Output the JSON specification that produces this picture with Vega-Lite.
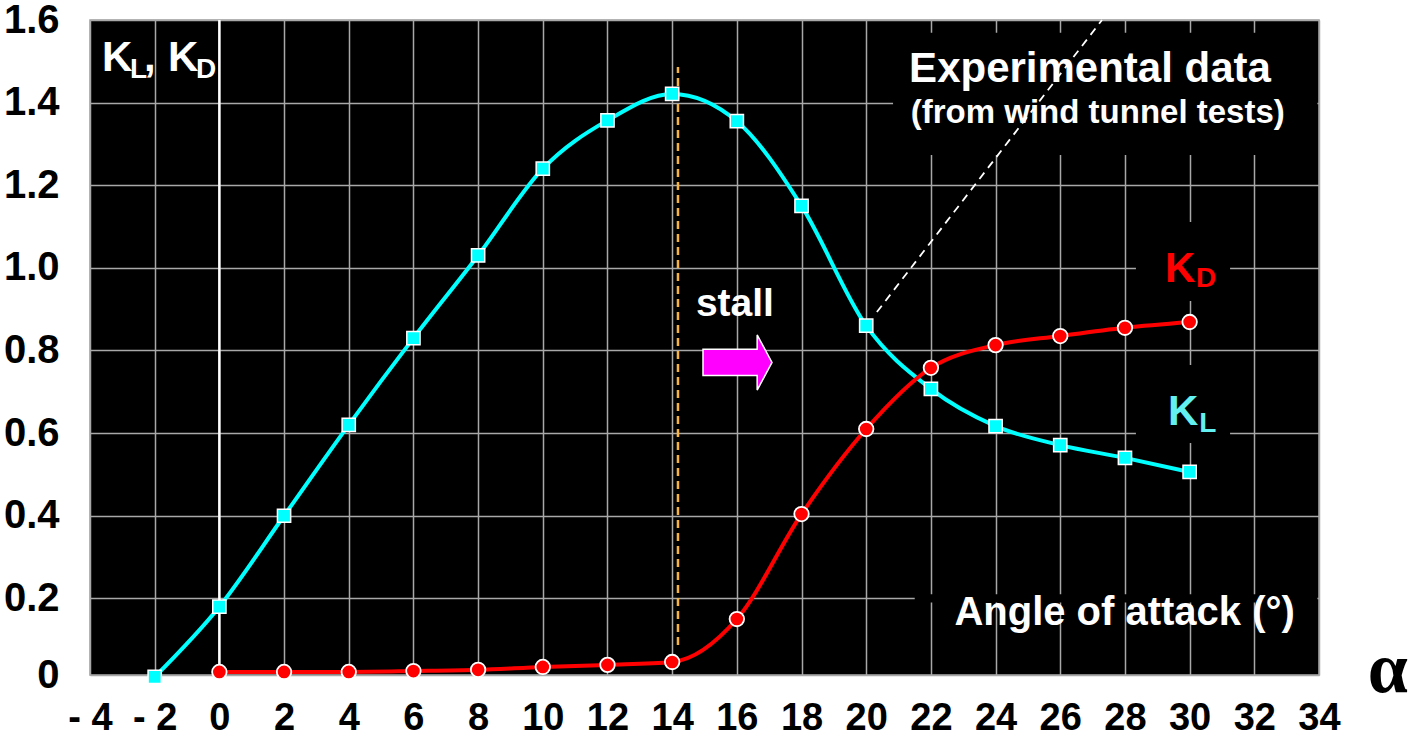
{
  "$schema": "https://vega.github.io/schema/vega-lite/v6.json",
  "width": 1229,
  "height": 655,
  "autosize": {"type": "none"},
  "padding": {"left": 90, "top": 20, "right": 93, "bottom": 66},
  "background": "white",
  "config": {
    "view": {"fill": "black", "stroke": "#a0a0a0", "strokeWidth": 1.5},
    "axis": {
      "domain": false,
      "ticks": false,
      "grid": true,
      "gridColor": "#a8a8a8",
      "gridWidth": 1.5,
      "title": null,
      "labelFont": "Liberation Sans, Arial, sans-serif",
      "labelFontWeight": "bold",
      "labelColor": "black"
    }
  },
  "datasets": {
    "kl": [
      {"a": -2, "k": 0.01}, {"a": 0, "k": 0.18}, {"a": 2, "k": 0.40}, {"a": 4, "k": 0.62},
      {"a": 6, "k": 0.83}, {"a": 8, "k": 1.03}, {"a": 10, "k": 1.24}, {"a": 12, "k": 1.357},
      {"a": 14, "k": 1.421}, {"a": 16, "k": 1.355}, {"a": 18, "k": 1.15}, {"a": 20, "k": 0.86},
      {"a": 22, "k": 0.707}, {"a": 24, "k": 0.617}, {"a": 26, "k": 0.571}, {"a": 28, "k": 0.54},
      {"a": 30, "k": 0.506}
    ],
    "kd": [
      {"a": 0, "k": 0.022}, {"a": 2, "k": 0.022}, {"a": 4, "k": 0.022}, {"a": 6, "k": 0.024},
      {"a": 8, "k": 0.027}, {"a": 10, "k": 0.034}, {"a": 12, "k": 0.039}, {"a": 14, "k": 0.046},
      {"a": 16, "k": 0.15}, {"a": 18, "k": 0.404}, {"a": 20, "k": 0.61}, {"a": 22, "k": 0.758},
      {"a": 24, "k": 0.813}, {"a": 26, "k": 0.835}, {"a": 28, "k": 0.855}, {"a": 30, "k": 0.869}
    ]
  },
  "encoding": {
    "x": {
      "field": "a",
      "type": "quantitative",
      "scale": {"domain": [-4, 34], "nice": false, "zero": false},
      "axis": {
        "values": [-4, -2, 0, 2, 4, 6, 8, 10, 12, 14, 16, 18, 20, 22, 24, 26, 28, 30, 32, 34],
        "labelExpr": "datum.value < 0 ? '- ' + abs(datum.value) : '' + datum.value",
        "labelFontSize": 38,
        "labelPadding": 24,
        "labelFlush": false,
        "labelOverlap": false
      }
    },
    "y": {
      "field": "k",
      "type": "quantitative",
      "scale": {"domain": [0.0145, 1.6], "nice": false, "zero": false},
      "axis": {
        "values": [0.0145, 0.2, 0.4, 0.6, 0.8, 1.0, 1.2, 1.4, 1.6],
        "labelExpr": "datum.value < 0.1 ? '0' : format(datum.value, '.1f')",
        "labelFontSize": 40,
        "labelPadding": 31,
        "labelFlush": false,
        "labelOverlap": false
      }
    }
  },
  "layer": [
    {
      "data": {"values": [
        {"a": 20.83, "a2": 33.95, "k": 1.273, "k2": 1.569},
        {"a": 28.34, "a2": 31.25, "k": 0.92, "k2": 1.111},
        {"a": 28.34, "a2": 31.25, "k": 0.576, "k2": 0.765},
        {"a": 21.5, "a2": 33.95, "k": 0.19, "k2": 0.21}
      ]},
      "mark": {"type": "rect", "fill": "black"},
      "encoding": {"x2": {"field": "a2"}, "y2": {"field": "k2"}}
    },
    {
      "data": {"values": [{"a": 0, "k": 0, "k2": 1.6}]},
      "mark": {"type": "rule", "stroke": "white", "strokeWidth": 2.5, "clip": true},
      "encoding": {"y2": {"field": "k2"}}
    },
    {
      "data": {"values": [{"a": 14.18, "k": 0.087, "k2": 1.486}]},
      "mark": {"type": "rule", "stroke": "#f5b342", "strokeWidth": 2.5, "strokeDash": [8, 5]},
      "encoding": {"y2": {"field": "k2"}}
    },
    {
      "data": {"values": [{"a": 20.33, "k": 0.893, "a2": 27.29, "k2": 1.6}]},
      "mark": {"type": "rule", "stroke": "white", "strokeWidth": 1.8, "strokeDash": [8, 6]},
      "encoding": {"x2": {"field": "a2"}, "y2": {"field": "k2"}}
    },
    {
      "data": {"name": "kl"},
      "mark": {"type": "line", "stroke": "#00ffff", "strokeWidth": 4, "interpolate": "monotone"}
    },
    {
      "data": {"name": "kd"},
      "mark": {"type": "line", "stroke": "#ff0000", "strokeWidth": 4, "interpolate": "monotone"}
    },
    {
      "data": {"name": "kl"},
      "mark": {"type": "point", "shape": "square", "size": 175, "filled": true, "fill": "#00ffff", "stroke": "white", "strokeWidth": 1.5, "opacity": 1}
    },
    {
      "data": {"name": "kd"},
      "mark": {"type": "point", "shape": "circle", "size": 210, "filled": true, "fill": "#ff0000", "stroke": "white", "strokeWidth": 1.8, "opacity": 1}
    },
    {
      "data": {"values": [{"a": 16.02, "k": 0.771}]},
      "mark": {"type": "point", "shape": "M-1,-0.38L0.57,-0.38L0.57,-0.8L1,0L0.57,0.8L0.57,0.38L-1,0.38Z", "size": 4761, "filled": true, "fill": "#ff00ff", "stroke": "white", "strokeWidth": 1.5, "opacity": 1}
    },
    {
      "data": {"values": [{"a": -3.63, "k": 1.477, "t": "K"}, {"a": -2.33, "k": 1.477, "t": ","}, {"a": -1.585, "k": 1.477, "t": "K"}]},
      "mark": {"type": "text", "align": "left", "baseline": "alphabetic", "font": "Liberation Sans, Arial, sans-serif", "fontWeight": "bold", "fontSize": 42, "fill": "white"},
      "encoding": {"text": {"field": "t"}}
    },
    {
      "data": {"values": [{"a": -2.76, "k": 1.46, "t": "L"}, {"a": -0.724, "k": 1.46, "t": "D"}]},
      "mark": {"type": "text", "align": "left", "baseline": "alphabetic", "font": "Liberation Sans, Arial, sans-serif", "fontWeight": "bold", "fontSize": 28, "fill": "white"},
      "encoding": {"text": {"field": "t"}}
    },
    {
      "data": {"values": [{"a": 29.24, "k": 0.966, "t": "K"}]},
      "mark": {"type": "text", "align": "left", "baseline": "alphabetic", "font": "Liberation Sans, Arial, sans-serif", "fontWeight": "bold", "fontSize": 42, "fill": "#ff0000"},
      "encoding": {"text": {"field": "t"}}
    },
    {
      "data": {"values": [{"a": 30.2, "k": 0.954, "t": "D"}]},
      "mark": {"type": "text", "align": "left", "baseline": "alphabetic", "font": "Liberation Sans, Arial, sans-serif", "fontWeight": "bold", "fontSize": 28, "fill": "#ff0000"},
      "encoding": {"text": {"field": "t"}}
    },
    {
      "data": {"values": [{"a": 29.33, "k": 0.62, "t": "K"}]},
      "mark": {"type": "text", "align": "left", "baseline": "alphabetic", "font": "Liberation Sans, Arial, sans-serif", "fontWeight": "bold", "fontSize": 42, "fill": "#62f0f0"},
      "encoding": {"text": {"field": "t"}}
    },
    {
      "data": {"values": [{"a": 30.3, "k": 0.603, "t": "L"}]},
      "mark": {"type": "text", "align": "left", "baseline": "alphabetic", "font": "Liberation Sans, Arial, sans-serif", "fontWeight": "bold", "fontSize": 28, "fill": "#62f0f0"},
      "encoding": {"text": {"field": "t"}}
    },
    {
      "data": {"values": [{"a": 26.92, "k": 1.45, "t": "Experimental data"}]},
      "mark": {"type": "text", "align": "center", "baseline": "alphabetic", "font": "Liberation Sans, Arial, sans-serif", "fontWeight": "bold", "fontSize": 42, "fill": "white"},
      "encoding": {"text": {"field": "t"}}
    },
    {
      "data": {"values": [{"a": 27.16, "k": 1.351, "t": "(from wind tunnel tests)"}]},
      "mark": {"type": "text", "align": "center", "baseline": "alphabetic", "font": "Liberation Sans, Arial, sans-serif", "fontWeight": "bold", "fontSize": 33, "fill": "white"},
      "encoding": {"text": {"field": "t"}}
    },
    {
      "data": {"values": [{"a": 15.94, "k": 0.884, "t": "stall"}]},
      "mark": {"type": "text", "align": "center", "baseline": "alphabetic", "font": "Liberation Sans, Arial, sans-serif", "fontWeight": "bold", "fontSize": 39, "fill": "white"},
      "encoding": {"text": {"field": "t"}}
    },
    {
      "data": {"values": [{"a": 27.99, "k": 0.136, "t": "Angle of attack (°)"}]},
      "mark": {"type": "text", "align": "center", "baseline": "alphabetic", "font": "Liberation Sans, Arial, sans-serif", "fontWeight": "bold", "fontSize": 40, "fill": "white"},
      "encoding": {"text": {"field": "t"}}
    },
    {
      "data": {"values": [{"a": 36.13, "k": -0.027, "t": "α"}]},
      "mark": {"type": "text", "align": "center", "baseline": "alphabetic", "font": "Liberation Serif, serif", "fontWeight": "bold", "fontSize": 72, "fill": "black"},
      "encoding": {"text": {"field": "t"}}
    }
  ]
}
